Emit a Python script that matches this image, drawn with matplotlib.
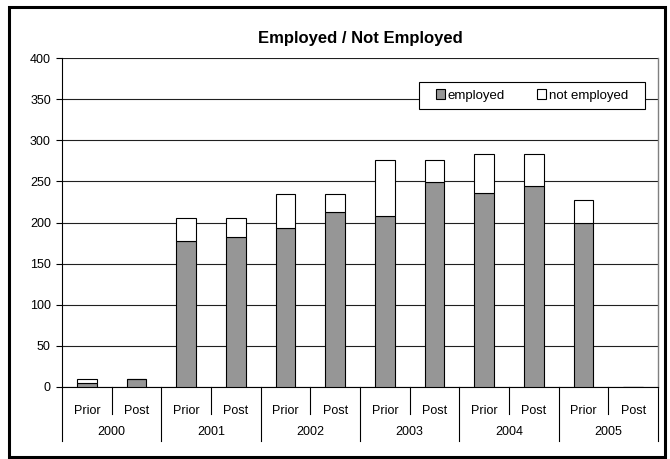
import numpy as np
import matplotlib.pyplot as plt
import matplotlib.transforms as mtransforms

plt.rcParams['font.family'] = ['Liberation Sans', 'DejaVu Sans']

years = ['2000', '2001', '2002', '2003', '2004', '2005']
phases = ['Prior', 'Post']
employed = [5, 9, 178, 182, 193, 213, 208, 249, 236, 245, 200, 0]
not_employed = [4, 0, 27, 23, 42, 22, 68, 27, 47, 38, 28, 0]

n = len(employed)
x = np.arange(n)

W, H = 670, 459
left, right, top, bottom = 62, 658, 58.3, 386.7
fig = plt.figure(figsize=(W/100, H/100), dpi=100)
ax = fig.add_axes([left/W, 1-bottom/H, (right-left)/W, (bottom-top)/H])
axh = bottom - top

ax.bar(x, employed, width=0.4, color='#969696', edgecolor='black', linewidth=0.8,
       label='employed', zorder=3)
ax.bar(x, not_employed, width=0.4, bottom=employed, color='white', edgecolor='black',
       linewidth=0.8, label='not employed', zorder=3)

ax.set_xlim(-0.5, n-0.5)
ax.set_ylim(0, 400)
ax.set_yticks(np.arange(0, 401, 50))
ax.yaxis.grid(True, color='#202020', linewidth=0.8, zorder=0)
ax.tick_params(axis='y', labelsize=9, length=4, direction='out', width=0.8, pad=4)
ax.tick_params(axis='x', length=0, labelsize=9, pad=13)
ax.set_xticks(x)
ax.set_xticklabels(phases * len(years))

ax.spines['top'].set_visible(False)
ax.spines['right'].set_color('#808080')
ax.spines['right'].set_linewidth(1.0)
ax.spines['left'].set_linewidth(0.8)
ax.spines['bottom'].set_linewidth(0.8)

# multi-level category axis
trans = mtransforms.blended_transform_factory(ax.transData, ax.transAxes)
for i in range(n + 1):
    xs = i - 0.5
    depth = 54 if i % 2 == 0 else 27
    ax.plot([xs, xs], [0, -depth/axh], color='black', linewidth=0.8, transform=trans, clip_on=False)
for j, yr in enumerate(years):
    ax.text(2*j + 0.5, -(432-bottom)/axh, yr, transform=trans, ha='center', va='center', fontsize=9)

fig.text((left+right)/2/W, 1-39/H, 'Employed / Not Employed', fontsize=12, fontweight='bold',
         ha='center', va='center')

# legend: box drawn separately so its padding matches
box = plt.Rectangle((419/W, 1-109/H), 226/W, 27/H, transform=fig.transFigure,
                    facecolor='white', edgecolor='black', linewidth=0.8, zorder=4)
ax.add_artist(box)
box.set_clip_on(False)
leg = ax.legend(ncol=2, loc='center', bbox_to_anchor=(532/W, 1-95.5/H),
                bbox_transform=fig.transFigure, fontsize=9.5, frameon=False,
                handlelength=0.7, handleheight=0.7, handletextpad=0.2, columnspacing=2.4,
                borderpad=0, borderaxespad=0)
leg.set_zorder(5)

# outer chart border
fig.patches.append(plt.Rectangle((8.5/W, 1-456.5/H), 656.5/W, 449.5/H, transform=fig.transFigure,
                                 fill=False, edgecolor='black', linewidth=2.2))

plt.savefig('out.png', dpi=100)
